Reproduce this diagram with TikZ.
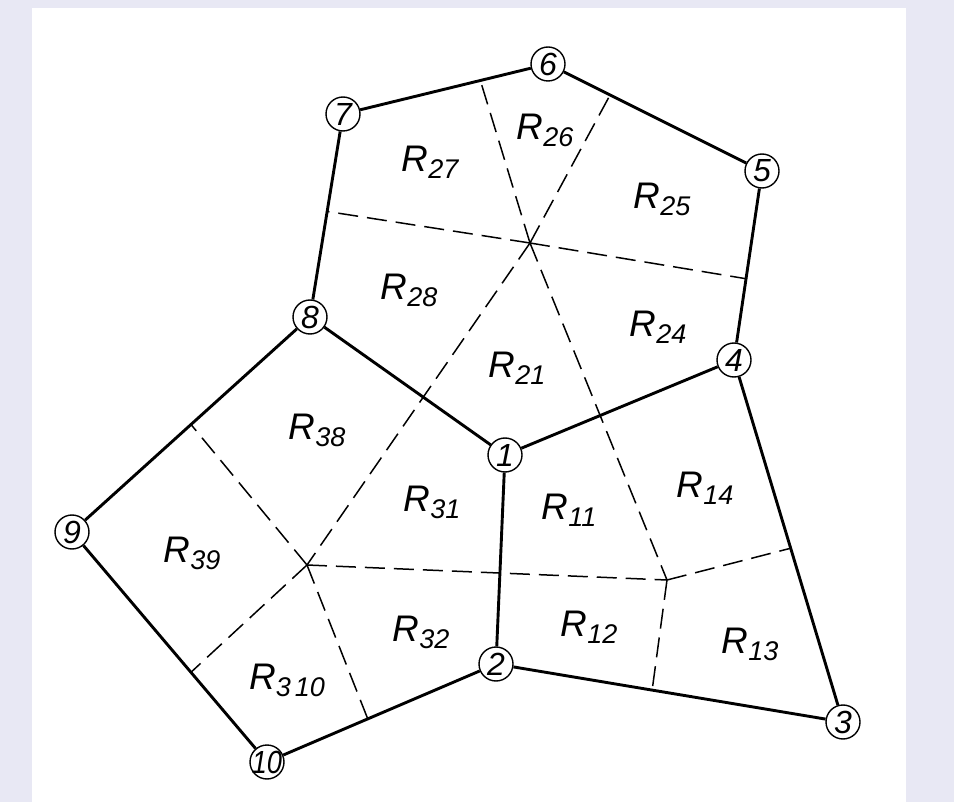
\documentclass[tikz,border=0pt]{standalone}
\usepackage{fontspec}
\setmainfont{Liberation Sans}
\usetikzlibrary{calc}
\definecolor{backlilac}{RGB}{232,232,244}
\newcommand{\rsub}[1]{\raisebox{-7pt}{\fontsize{27}{27}\selectfont #1}}

\begin{document}
\begin{tikzpicture}[x=1pt,y=-1pt,
  vtx/.style={draw,circle,fill=white,line width=1.4pt,minimum size=34pt,inner sep=0pt,font=\fontsize{32}{32}\selectfont\itshape},
  wall/.style={line width=2.9pt},
  cut/.style={line width=1.5pt,dash pattern=on 20pt off 9pt},
  reg/.style={inner sep=0pt,font=\fontsize{37}{40}\selectfont\itshape}]
\fill[backlilac] (0,0) rectangle (954,802);
\fill[white] (32,8) rectangle (906,802);

\node[vtx] (n1) at (505,455) {1};
\node[vtx] (n2) at (496,664) {2};
\node[vtx] (n3) at (843,722) {3};
\node[vtx] (n4) at (734,360) {4};
\node[vtx] (n5) at (762,171) {5};
\node[vtx] (n6) at (548,64) {6};
\node[vtx] (n7) at (343,114) {7};
\node[vtx] (n8) at (310,317) {8};
\node[vtx] (n9) at (72,532) {9};
\node[vtx] (n10) at (267,762) {\makebox[0pt]{\scalebox{0.85}[1]{10}}};

\coordinate (c1) at (667,580);
\coordinate (c2) at (530,243);
\coordinate (c3) at (307,565);
\coordinate (m76) at ($(n7)!0.67!(n6)$);
\coordinate (m65) at ($(n6)!0.29!(n5)$);
\coordinate (m54) at ($(n5)!0.57!(n4)$);
\coordinate (m87) at ($(n8)!0.52!(n7)$);
\coordinate (m43) at ($(n4)!0.52!(n3)$);
\coordinate (m23) at ($(n2)!0.45!(n3)$);
\coordinate (m89) at ($(n8)!0.5!(n9)$);
\coordinate (m910) at ($(n9)!0.61!(n10)$);
\coordinate (m102) at ($(n10)!0.44!(n2)$);

\draw[cut] (c2) -- (m76);
\draw[cut] (c2) -- (m65);
\draw[cut] (c2) -- (m54);
\draw[cut] (c2) -- (m87);
\draw[cut] (c2) -- (c3);
\draw[cut] (c2) -- (c1);
\draw[cut] (c1) -- (m43);
\draw[cut] (c1) -- (m23);
\draw[cut] (c3) -- (c1);
\draw[cut] (c3) -- (m89);
\draw[cut] (c3) -- (m910);
\draw[cut] (c3) -- (m102);

\draw[wall] (n1) -- (n8);
\draw[wall] (n8) -- (n7);
\draw[wall] (n7) -- (n6);
\draw[wall] (n6) -- (n5);
\draw[wall] (n5) -- (n4);
\draw[wall] (n4) -- (n1);
\draw[wall] (n1) -- (n2);
\draw[wall] (n2) -- (n3);
\draw[wall] (n3) -- (n4);
\draw[wall] (n2) -- (n10);
\draw[wall] (n10) -- (n9);
\draw[wall] (n9) -- (n8);

\node[reg] (r26) at (545,130) {R\rsub{26}};
\node[reg] (r27) at (430,162) {R\rsub{27}};
\node[reg] (r25) at (662,199) {R\rsub{25}};
\node[reg] (r28) at (409,290) {R\rsub{28}};
\node[reg] (r24) at (658,327) {R\rsub{24}};
\node[reg] (r21) at (517,368) {R\rsub{21}};
\node[reg] (r38) at (317,430) {R\rsub{38}};
\node[reg] (r31) at (432,502) {R\rsub{31}};
\node[reg] (r39) at (192,553) {R\rsub{39}};
\node[reg] (r32) at (421,632) {R\rsub{32}};
\node[reg] (r310) at (287,680) {R\rsub{3\hspace{4pt}10}};
\node[reg] (r11) at (569,510) {R\rsub{11}};
\node[reg] (r14) at (705,488) {R\rsub{14}};
\node[reg] (r12) at (589,627) {R\rsub{12}};
\node[reg] (r13) at (750,644) {R\rsub{13}};
\end{tikzpicture}
\end{document}
